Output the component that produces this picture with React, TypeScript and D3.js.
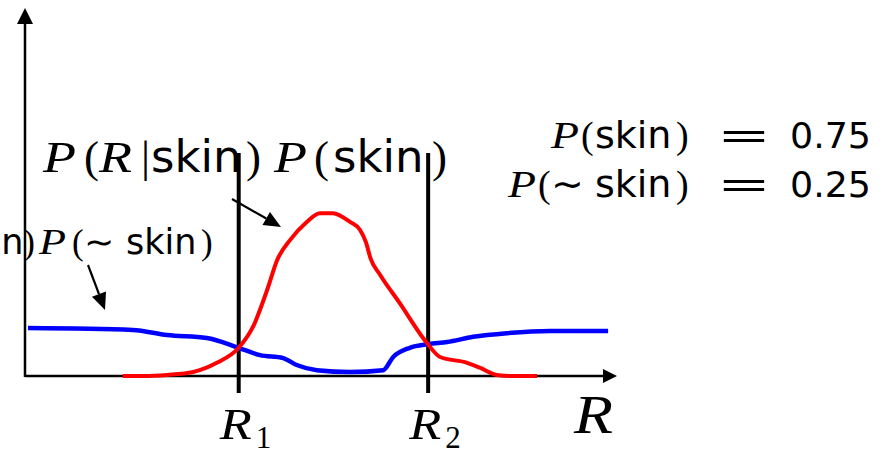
import React from "react";
import * as d3 from "d3";

// Class-conditional densities weighted by priors, sampled along R
const redR = [16.5, 19.9, 24.0, 28.4, 32.4, 36.1, 38.5, 40.9, 42.6, 44.8, 47.6, 49.8, 52.0, 54.9, 56.6, 57.6, 58.4, 60.0, 63.3, 67.9, 70.1, 74.7, 76.9, 79.7, 82.4, 86.5];
const redV = [0, 0, 0.3, 1.1, 3.6, 7.7, 13.4, 23.5, 31.7, 37.2, 42.1, 44.5, 44.5, 42.1, 39.9, 36.5, 32.0, 27.6, 19.9, 9.0, 5.2, 3.6, 2.2, 0.3, 0, 0];
const blueR = [0.5, 18.2, 24.0, 30.7, 36.1, 39.7, 43.6, 45.9, 49.3, 54.9, 60.5, 62.2, 65.0, 68.1, 71.3, 75.7, 81.4, 88.7, 98.5];
const blueV = [13.1, 12.6, 11.2, 10.4, 7.7, 5.7, 4.9, 3.0, 1.6, 1.1, 1.6, 5.2, 7.7, 8.7, 9.3, 10.7, 11.7, 12.3, 12.3];
const thresholds = [36.1, 68.1];
const thresholdLabels = ["1", "2"];
const priorNames = ["skin", "∼ skin"];
const priorValues = ["0.75", "0.25"];

const W = 892;
const H = 453;
const serif = "'Liberation Serif', serif";
const sans = "'DejaVu Sans', sans-serif";

type Tok = { t: string; x: number; kind: "var" | "rm" | "sf"; w?: number };

// A formula laid out as a row of positioned glyph runs
function Formula({ toks, y, size }: { toks: Tok[]; y: number; size: number }) {
  return (
    <g fontSize={size}>
      {toks.map((k, i) => (
        <text
          key={i}
          x={k.x}
          y={y}
          fontFamily={k.kind === "sf" ? sans : serif}
          fontStyle={k.kind === "var" ? "italic" : "normal"}
          textLength={k.w}
          lengthAdjust={k.w ? "spacingAndGlyphs" : undefined}
        >
          {k.t}
        </text>
      ))}
    </g>
  );
}

function Arrow({ x1, y1, x2, y2 }: { x1: number; y1: number; x2: number; y2: number }) {
  const a = Math.atan2(y2 - y1, x2 - x1);
  const len = 17;
  const half = 7.5;
  const bx = x2 - len * Math.cos(a);
  const by = y2 - len * Math.sin(a);
  const px = -Math.sin(a) * half;
  const py = Math.cos(a) * half;
  return (
    <g>
      <line x1={x1} y1={y1} x2={bx} y2={by} stroke="#000" strokeWidth={2.2} />
      <path d={`M${x2},${y2} L${bx + px},${by + py} L${bx - px},${by - py} Z`} fill="#000" />
    </g>
  );
}

export default function App() {
  const x = d3.scaleLinear().domain([0, 100]).range([25, 617]);
  const y = d3.scaleLinear().domain([0, 100]).range([376, 10]);
  const line = d3
    .line<[number, number]>()
    .x((d) => x(d[0]))
    .y((d) => y(d[1]))
    .curve(d3.curveMonotoneX);
  const redPts = redR.map((r, i) => [r, redV[i]] as [number, number]);
  const bluePts = blueR.map((r, i) => [r, blueV[i]] as [number, number]);
  const x0 = x(0);
  const y0 = y(0);

  const title: Tok[] = [
    { t: "P", x: 43, kind: "var", w: 33 },
    { t: "(", x: 84, kind: "rm" },
    { t: "R", x: 99, kind: "var", w: 33 },
    { t: "|", x: 141, kind: "rm" },
    { t: "skin", x: 151, kind: "sf" },
    { t: ")", x: 246, kind: "rm" },
    { t: "P", x: 274, kind: "var", w: 33 },
    { t: "(", x: 314, kind: "rm" },
    { t: "skin", x: 333, kind: "sf" },
    { t: ")", x: 432, kind: "rm" },
  ];
  const notSkin: Tok[] = [
    { t: "P", x: 39, kind: "var", w: 27 },
    { t: "(", x: 72, kind: "rm" },
    { t: "∼", x: 84, kind: "rm", w: 30 },
    { t: "skin", x: 126, kind: "sf" },
    { t: ")", x: 201, kind: "rm" },
  ];

  return (
    <svg
      width={W}
      height={H}
      style={{ position: "absolute", left: 0, top: 0, background: "#fff" }}
    >
      {/* axes with arrowheads */}
      <line x1={x0} y1={y0 + 1} x2={x0} y2={20} stroke="#000" strokeWidth={2.5} />
      <path d={`M${x0 - 8},${24} L${x0},${8} L${x0 + 8},${24} Z`} fill="#000" />
      <line x1={x0} y1={y0} x2={607} y2={y0} stroke="#000" strokeWidth={2.5} />
      <path d={`M${603},${y0 - 7} L${617},${y0} L${603},${y0 + 7} Z`} fill="#000" />

      {/* decision thresholds */}
      {thresholds.map((t, i) => (
        <g key={i}>
          <line x1={x(t)} y1={153} x2={x(t)} y2={393} stroke="#000" strokeWidth={4} />
          <text x={x(t) - 19} y={439} fontFamily={serif} fontStyle="italic" fontSize={45} textLength={32} lengthAdjust="spacingAndGlyphs">
            R
          </text>
          <text x={x(t) + 17} y={448} fontFamily={serif} fontSize={31}>
            {thresholdLabels[i]}
          </text>
        </g>
      ))}

      {/* curves */}
      <path d={line(bluePts) ?? ""} fill="none" stroke="#0000ff" strokeWidth={4.5} />
      <path d={line(redPts) ?? ""} fill="none" stroke="#ff0000" strokeWidth={4} />

      {/* annotations */}
      <Formula toks={title} y={172} size={45} />
      <text x={35} y={254} fontSize={35} textAnchor="end">
        <tspan fontFamily={serif} fontStyle="italic">P</tspan>
        <tspan fontFamily={serif}>(</tspan>
        <tspan fontFamily={serif} fontStyle="italic">R</tspan>
        <tspan fontFamily={serif}>|∼ </tspan>
        <tspan fontFamily={sans}>skin</tspan>
        <tspan fontFamily={serif}>)</tspan>
      </text>
      <Formula toks={notSkin} y={254} size={35} />

      {/* arrows pointing at the curves */}
      <Arrow x1={232} y1={199} x2={281} y2={227} />
      <Arrow x1={88} y1={265} x2={105} y2={310} />

      <text x={574} y={433} fontFamily={serif} fontStyle="italic" fontSize={54} textLength={39} lengthAdjust="spacingAndGlyphs">
        R
      </text>

      {/* priors */}
      {priorNames.map((n, i) => {
        const by = 148 + i * 49;
        const toks: Tok[] =
          i === 0
            ? [
                { t: "P", x: 551, kind: "var", w: 28 },
                { t: "(", x: 581, kind: "rm" },
                { t: n, x: 595, kind: "sf" },
                { t: ")", x: 676, kind: "rm" },
              ]
            : [
                { t: "P", x: 508, kind: "var", w: 28 },
                { t: "(", x: 538, kind: "rm" },
                { t: "∼", x: 551, kind: "rm", w: 33 },
                { t: n.replace("∼ ", ""), x: 595, kind: "sf" },
                { t: ")", x: 676, kind: "rm" },
              ];
        return (
          <g key={i}>
            <Formula toks={toks} y={by} size={38} />
            <text x={717} y={by} fontFamily={sans} fontSize={38} textLength={54} lengthAdjust="spacingAndGlyphs">
              =
            </text>
            <text x={790} y={by} fontFamily={sans} fontSize={36} textLength={81} lengthAdjust="spacingAndGlyphs">
              {priorValues[i]}
            </text>
          </g>
        );
      })}
    </svg>
  );
}
